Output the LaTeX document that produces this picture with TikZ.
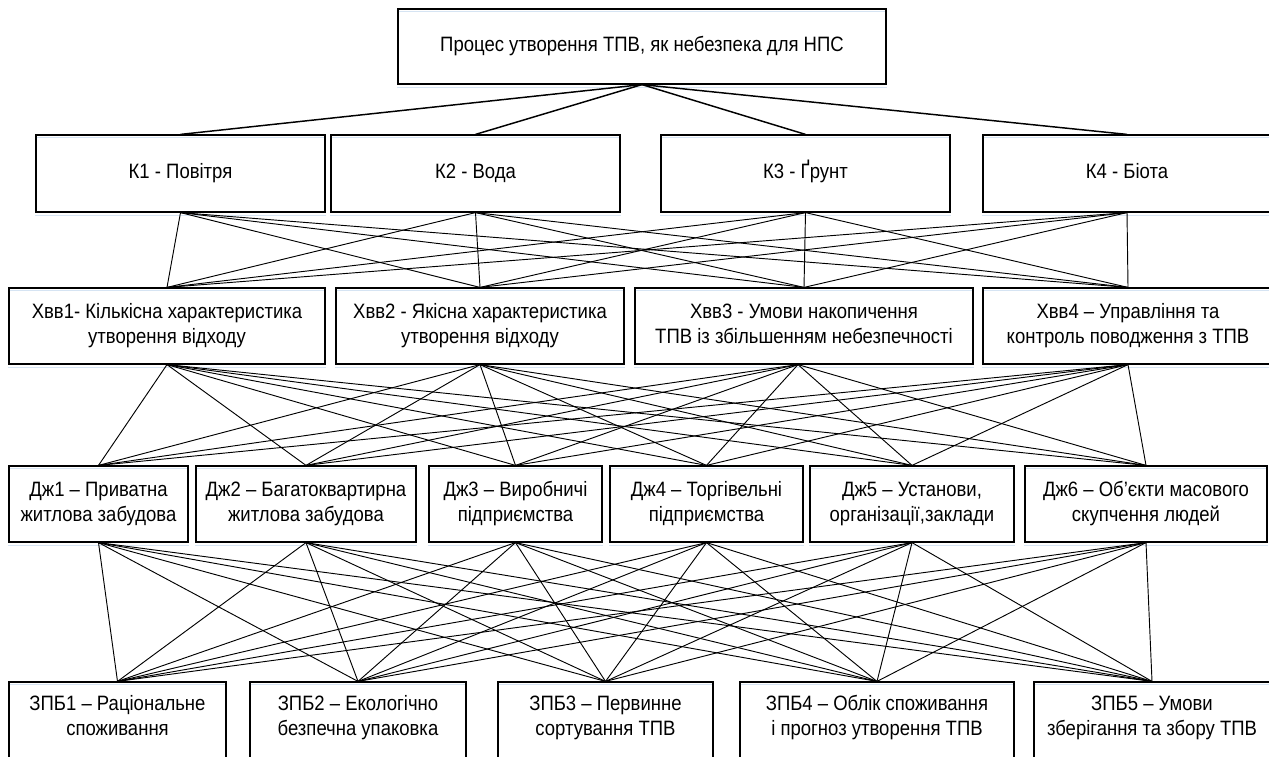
\documentclass[tikz,border=0pt]{standalone}
\usepackage{fontspec}
\setmainfont{Liberation Sans}[FakeStretch=0.89]
\begin{document}
\begin{tikzpicture}[x=0.75pt,y=-0.75pt,
  box/.style={draw, line width=0.9pt, inner sep=0pt, align=center, font=\fontsize{15.6}{18.75}\selectfont},
  txt/.style={inner sep=0pt, align=center, font=\fontsize{15.6}{18.75}\selectfont},
  bx/.style n args={2}{minimum width=#1*0.75pt, minimum height=#2*0.75pt},
  lnk/.style={line width=0.7pt},
  toplnk/.style={line width=1.1pt},
  shd/.style={line width=0.8pt, color={rgb,255:red,214;green,228;blue,243}}]
\useasboundingbox (0,0) rectangle (1269,756);
\fill[white] (0,0) rectangle (1269,756);

% level 0
\node[box,bx={488}{75}] (top) at (642,46.5) {\strut Процес утворення ТПВ, як небезпека для НПС};

% level 1
\node[box,bx={289}{77}] (k1) at (180.5,173.5) {\strut К1 - Повітря};
\node[box,bx={289}{77}] (k2) at (475.5,173.5) {\strut К2 - Вода};
\node[box,bx={289}{77}] (k3) at (805.5,173.5) {\strut К3 - Ґрунт};
\node[box,bx={288}{77}] (k4) at (1127,173.5) {\strut К4 - Біота};

% level 2
\node[box,bx={316}{76}] (x1) at (167,326) {\strut Хвв1- Кількісна характеристика\\\strut утворення відходу};
\node[box,bx={288}{76}] (x2) at (480,326) {\strut Хвв2 - Якісна характеристика\\\strut утворення відходу};
\node[box,bx={338}{76}] (x3) at (804,326) {\strut Хвв3 - Умови накопичення\\\strut ТПВ із збільшенням небезпечності};
\node[box,bx={290}{76}] (x4) at (1128,326) {\strut Хвв4 – Управління та\\\strut контроль поводження з ТПВ};

% level 3
\node[box,bx={179}{76}] (d1) at (98.5,504) {\strut Дж1 – Приватна\\\strut житлова забудова};
\node[box,bx={220}{76}] (d2) at (306,504) {\strut Дж2 – Багатоквартирна\\\strut житлова забудова};
\node[box,bx={173}{76}] (d3) at (515.5,504) {\strut Дж3 – Виробничі\\\strut підприємства};
\node[box,bx={193}{76}] (d4) at (706.5,504) {\strut Дж4 – Торгівельні\\\strut підприємства};
\node[box,bx={204}{76}] (d5) at (912,504) {\strut Дж5 – Установи,\\\strut організації,заклади};
\node[box,bx={242}{76}] (d6) at (1146,504) {\strut Дж6 – Об’єкти масового\\\strut скупчення людей};

% level 4
\node[box,bx={217}{108}] (z1) at (117.5,736) {};
\node[box,bx={216}{108}] (z2) at (358,736) {};
\node[box,bx={215}{108}] (z3) at (605.5,736) {};
\node[box,bx={274}{108}] (z4) at (877,736) {};
\node[box,bx={236}{108}] (z5) at (1152,736) {};
\node[txt] (z1t) at (117.5,717.5) {\strut ЗПБ1 – Раціональне\\\strut споживання};
\node[txt] (z2t) at (358,717.5) {\strut ЗПБ2 – Екологічно\\\strut безпечна упаковка};
\node[txt] (z3t) at (605.5,717.5) {\strut ЗПБ3 – Первинне\\\strut сортування ТПВ};
\node[txt] (z4t) at (877,717.5) {\strut ЗПБ4 – Облік споживання\\\strut і прогноз утворення ТПВ};
\node[txt] (z5t) at (1152,717.5) {\strut ЗПБ5 – Умови\\\strut зберігання та збору ТПВ};

% faint shadow lines of the boxes
\foreach \n in {top,k1,k2,k3,k4,x1,x2,x3,x4,d1,d2,d3,d4,d5,d6,z1,z2,z3,z4,z5} {
  \draw[shd] ([xshift=1pt,yshift=-2.6pt]\n.north west) -- ([xshift=-1pt,yshift=-2.6pt]\n.north east);
}
\foreach \n in {top,k1,k2,k3,k4,x1,x2,x3,x4,d1,d2,d3,d4,d5,d6} {
  \draw[shd] ([yshift=-2pt]\n.south west) -- ([yshift=-2pt]\n.south east);
}

% anchor points under level 2
\coordinate (x1b) at (x1.south);
\coordinate (x2b) at (x2.south);
\coordinate (x3b) at ([xshift=-4.5pt]x3.south);
\coordinate (x4b) at (x4.south);

% connectors
\foreach \k in {k1,k2,k3,k4}
  \draw[toplnk] (top.south) -- (\k.north);
\foreach \k in {k1,k2,k3,k4}
  \foreach \x in {x1,x2,x3,x4}
    \draw[lnk] (\k.south) -- (\x.north);
\foreach \x in {x1b,x2b,x3b,x4b}
  \foreach \d in {d1,d2,d3,d4,d5,d6}
    \draw[lnk] (\x) -- (\d.north);
\foreach \d in {d1,d2,d3,d4,d5,d6}
  \foreach \z in {z1,z2,z3,z4,z5}
    \draw[lnk] (\d.south) -- (\z.north);
\end{tikzpicture}
\end{document}
